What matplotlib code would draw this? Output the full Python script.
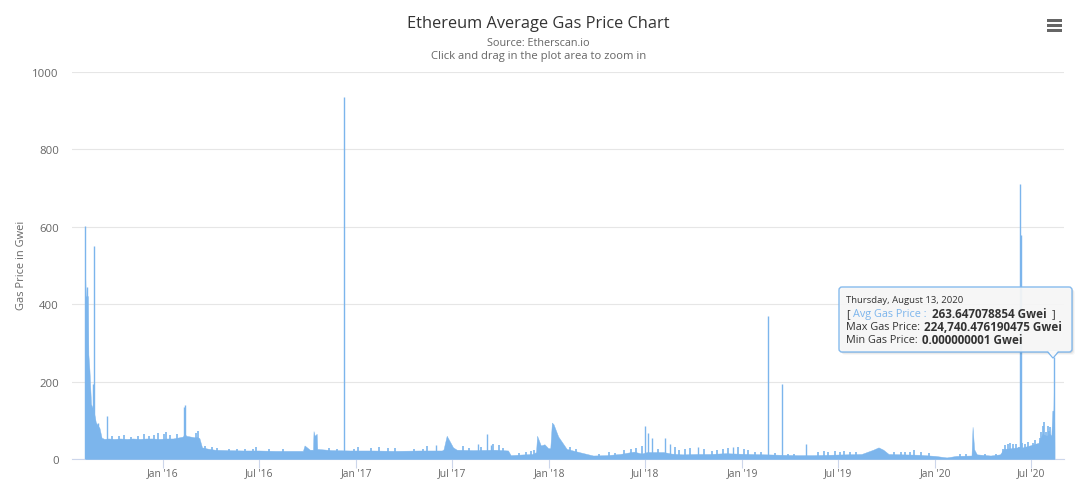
import matplotlib
matplotlib.use("Agg")
import matplotlib.pyplot as plt
import pandas as pd
from matplotlib.patches import FancyBboxPatch, Polygon, Rectangle

plt.rcParams['font.family'] = ['Open Sans', 'DejaVu Sans']

# average gas price
dates = ['2015-08-07', '2015-08-08', '2015-08-10', '2015-08-12', '2015-08-13', '2015-08-15', '2015-08-18',
         '2015-08-23', '2015-08-27', '2015-09-03', '2015-09-07', '2015-09-12', '2015-09-20', '2015-10-01',
         '2015-10-12', '2015-10-25', '2015-11-05', '2015-11-18', '2015-12-01', '2015-12-12', '2015-12-25',
         '2016-01-08', '2016-01-20', '2016-02-01', '2016-02-08', '2016-02-10', '2016-02-13', '2016-02-14',
         '2016-02-22', '2016-03-01', '2016-03-05', '2016-03-10', '2016-03-15', '2016-03-25', '2016-04-08',
         '2016-05-01', '2016-06-01', '2016-07-01', '2016-08-01', '2016-09-01', '2016-09-22', '2016-09-25',
         '2016-10-05', '2016-10-11', '2016-10-12', '2016-10-14', '2016-10-18', '2016-10-19', '2016-11-15',
         '2016-12-20', '2017-02-01', '2017-03-15', '2017-05-01', '2017-06-12', '2017-06-15', '2017-06-21',
         '2017-06-27', '2017-07-03', '2017-07-10', '2017-08-10', '2017-09-20', '2017-10-15', '2017-10-20',
         '2017-11-15', '2017-12-01', '2017-12-07', '2017-12-09', '2017-12-16', '2017-12-23', '2017-12-30',
         '2018-01-03', '2018-01-06', '2018-01-09', '2018-01-18', '2018-02-03', '2018-03-01', '2018-03-25',
         '2018-04-20', '2018-05-15', '2018-06-01', '2018-06-10', '2018-06-25', '2018-07-05', '2018-07-20',
         '2018-08-05', '2018-08-20', '2018-09-10', '2018-10-05', '2018-11-01', '2018-12-01', '2018-12-20',
         '2019-01-15', '2019-02-15', '2019-03-15', '2019-04-15', '2019-05-15', '2019-06-15', '2019-07-15',
         '2019-08-15', '2019-09-06', '2019-09-16', '2019-09-25', '2019-10-05', '2019-11-01', '2019-12-01',
         '2020-01-01', '2020-01-23', '2020-02-10', '2020-03-10', '2020-03-12', '2020-03-15', '2020-03-20',
         '2020-04-15', '2020-05-03', '2020-05-10', '2020-05-25', '2020-06-05', '2020-06-15', '2020-07-01',
         '2020-07-15', '2020-07-22', '2020-07-30', '2020-08-05', '2020-08-08', '2020-08-10', '2020-08-12',
         '2020-08-13', '2020-08-14']
avg_price = [473, 421, 421, 421, 270, 230, 142,
             125, 95, 80, 55, 52, 53, 52,
             53, 52, 53, 52, 53, 53, 52,
             53, 53, 56, 58, 64, 62, 60,
             58, 56, 57, 54, 30, 27, 24,
             23, 22, 22, 21, 21, 21, 35,
             24, 24, 72, 60, 65, 26, 23,
             22, 22, 21, 22, 22, 25, 60,
             45, 30, 24, 23, 24, 22, 10,
             12, 13, 18, 60, 35, 38, 28,
             28, 94, 90, 58, 26, 17, 9,
             10, 13, 17, 19, 14, 18, 18,
             18, 14, 12, 13, 13, 15, 14,
             13, 12, 11, 10, 10, 11, 12,
             13, 24, 30, 24, 13, 12, 11,
             8, 4, 8, 9, 83, 25, 12,
             9, 12, 26, 28, 30, 30, 36,
             42, 65, 60, 65, 60, 125, 125,
             213, 30]

# single day spikes
spike_dates = ['2015-08-07', '2015-08-11', '2015-08-22', '2015-08-24', '2015-08-31', '2015-09-17', '2016-02-10',
               '2016-02-12', '2016-12-09', '2017-05-31', '2017-08-19', '2017-09-05', '2017-09-12', '2018-07-02',
               '2018-07-07', '2018-07-14', '2018-08-08', '2018-08-17', '2018-10-10', '2018-12-15', '2019-02-19',
               '2019-03-17', '2019-05-01', '2020-06-10', '2020-06-11', '2020-08-13']
spike_values = [601, 444, 193, 551, 93, 111, 134,
                140, 935, 35, 40, 65, 35, 85,
                68, 55, 55, 40, 30, 30, 370,
                195, 38, 710, 580, 263]

# the small teeth along the top of the area
small_dates = ['2015-09-26', '2015-10-09', '2015-10-19', '2015-11-02', '2015-11-14', '2015-11-27', '2015-12-06',
               '2015-12-16', '2015-12-22', '2016-01-03', '2016-01-06', '2016-01-15', '2016-01-27', '2016-03-03',
               '2016-03-08', '2016-03-20', '2016-04-02', '2016-04-12', '2016-05-05', '2016-05-20', '2016-06-04',
               '2016-06-20', '2016-06-26', '2016-07-20', '2016-08-15', '2016-11-10', '2016-11-25', '2016-12-28',
               '2017-01-05', '2017-01-28', '2017-02-12', '2017-03-01', '2017-03-15', '2017-04-20', '2017-05-08',
               '2017-05-14', '2017-07-22', '2017-08-03', '2017-08-25', '2017-09-16', '2017-09-27', '2017-10-05',
               '2017-11-05', '2017-11-18', '2017-11-28', '2017-12-03', '2018-02-10', '2018-02-20', '2018-03-10',
               '2018-04-05', '2018-04-25', '2018-05-05', '2018-05-22', '2018-06-05', '2018-06-14', '2018-06-25',
               '2018-07-25', '2018-08-27', '2018-09-03', '2018-09-15', '2018-09-25', '2018-10-20', '2018-11-05',
               '2018-11-14', '2018-11-25', '2018-12-05', '2018-12-25', '2019-01-05', '2019-01-12', '2019-01-25',
               '2019-02-05', '2019-03-05', '2019-03-28', '2019-04-10', '2019-05-25', '2019-06-05', '2019-06-12',
               '2019-06-25', '2019-07-05', '2019-07-12', '2019-07-25', '2019-08-05', '2019-10-15', '2019-10-28',
               '2019-11-05', '2019-11-15', '2019-11-22', '2019-12-05', '2019-12-20', '2020-02-18', '2020-02-28',
               '2020-04-05', '2020-04-25', '2020-05-08', '2020-05-12', '2020-05-18', '2020-05-22', '2020-05-28',
               '2020-06-02', '2020-06-08', '2020-06-14', '2020-06-20', '2020-06-25', '2020-07-05', '2020-07-08',
               '2020-07-12', '2020-07-17', '2020-07-20', '2020-07-23', '2020-07-26', '2020-07-29', '2020-08-01',
               '2020-08-03', '2020-08-06']
small_values = [60, 59, 62, 58, 60, 64, 60,
                62, 66, 65, 70, 62, 64, 66,
                72, 34, 32, 28, 26, 27, 26,
                25, 30, 25, 25, 29, 26, 26,
                30, 28, 30, 28, 29, 27, 26,
                34, 33, 28, 32, 40, 36, 28,
                15, 18, 20, 24, 32, 25, 14,
                14, 18, 16, 22, 26, 28, 34,
                25, 30, 22, 26, 28, 25, 20,
                22, 25, 28, 30, 26, 22, 19,
                17, 16, 13, 14, 18, 20, 17,
                20, 19, 21, 18, 19, 18, 17,
                18, 19, 22, 17, 15, 13, 14,
                14, 13, 26, 35, 38, 42, 38,
                40, 32, 42, 38, 45, 42, 50,
                40, 55, 70, 85, 95, 70, 85,
                72, 82]

tick_dates = ['2016-01-01', '2016-07-01', '2017-01-01', '2017-07-01', '2018-01-01', '2018-07-01', '2019-01-01',
              '2019-07-01', '2020-01-01', '2020-07-01']
tick_labels = ["Jan '16", "Jul '16", "Jan '17", "Jul '17", "Jan '18", "Jul '18", "Jan '19",
               "Jul '19", "Jan '20", "Jul '20"]
y_ticks = [0, 200, 400, 600, 800, 1000]

BLUE = '#7cb5ec'
TEXT = '#333333'
GREY = '#666666'

fig = plt.figure(figsize=(10.8, 4.85), dpi=100)
ax = fig.add_axes([72 / 1080, 1 - 460 / 485, 992 / 1080, 387 / 485])

x = pd.to_datetime(dates)
ax.fill_between(x, avg_price, 0, color=BLUE, lw=0.3, zorder=3)
ax.vlines(pd.to_datetime(small_dates), 0, small_values, color=BLUE, lw=1.2, zorder=3)
ax.vlines(pd.to_datetime(spike_dates), 0, spike_values, color=BLUE, lw=1.0, zorder=3)

ax.set_xlim(pd.Timestamp('2015-07-13'), pd.Timestamp('2020-09-01'))
ax.set_ylim(0, 1000)
ax.set_yticks(y_ticks)
ax.set_xticks(pd.to_datetime(tick_dates))
ax.set_xticklabels(tick_labels)
ax.grid(axis='y', color='#e6e6e6', lw=0.8, zorder=0)
ax.tick_params(axis='x', length=6.5, color='#ccd6eb', width=0.8, labelsize=7.4, labelcolor=GREY, pad=-0.5)
ax.tick_params(axis='y', length=0, labelsize=8.2, labelcolor=GREY, pad=9.4)
for name in ['top', 'left', 'right']:
    ax.spines[name].set_visible(False)
ax.spines['bottom'].set_color('#ccd6eb')
ax.spines['bottom'].set_linewidth(0.8)
ax.set_axisbelow(True)

# overlay in pixel coordinates for title, menu and tooltip
ov = fig.add_axes([0, 0, 1, 1], zorder=5)
ov.set_xlim(0, 1080)
ov.set_ylim(485, 0)
ov.axis('off')
ov.patch.set_alpha(0)

ov.text(538, 23.5, 'Ethereum Average Gas Price Chart', ha='center', va='center', fontsize=11.8, color=TEXT)
ov.text(538.5, 44, 'Source: Etherscan.io', ha='center', va='center', fontsize=7.8, color=GREY)
ov.text(538.5, 57, 'Click and drag in the plot area to zoom in', ha='center', va='center', fontsize=8.1, color=GREY)
ov.text(22, 265.5, 'Gas Price in Gwei', rotation=90, ha='center', va='center', fontsize=7.9, color=GREY)

for y in [21, 26, 31]:
    ov.add_patch(Rectangle((1047, y - 1.5), 15, 3, color='#666666', lw=0))

# tooltip
for off, a in [(3, 0.03), (2, 0.05), (1, 0.08)]:
    ov.add_patch(FancyBboxPatch((839 + off, 288 + off), 233, 65, boxstyle='round,pad=0,rounding_size=3',
                                fc='black', ec='none', alpha=a, zorder=6))
ov.add_patch(Polygon([[1047, 352], [1053, 359], [1059, 352]], closed=True, fc='#f9f9f9', ec=BLUE, lw=1, zorder=7))
ov.add_patch(FancyBboxPatch((839, 288), 233, 65, boxstyle='round,pad=0,rounding_size=3',
                            fc='#f9f9f9', ec=BLUE, lw=1, alpha=0.92, zorder=7))
ov.add_patch(Polygon([[1048, 352], [1053, 358], [1058, 352]], closed=True, fc='#f9f9f9', ec='none', zorder=8))

ov.text(846, 301, 'Thursday, August 13, 2020', va='center', fontsize=6.8, color=TEXT, zorder=9)
ov.text(846, 314.5, '[', va='center', fontsize=7.8, color=TEXT, zorder=9)
ov.text(853, 314.5, 'Avg Gas Price :', va='center', fontsize=7.8, color=BLUE, zorder=9)
ov.text(932, 314.5, '263.647078854 Gwei', va='center', fontsize=8.4, weight='bold', color=TEXT, zorder=9)
ov.text(1052, 314.5, ']', va='center', fontsize=7.8, color=TEXT, zorder=9)
ov.text(846, 328, 'Max Gas Price:', va='center', fontsize=7.8, color=TEXT, zorder=9)
ov.text(924, 328, '224,740.476190475 Gwei', va='center', fontsize=8.4, weight='bold', color=TEXT, zorder=9)
ov.text(846, 341, 'Min Gas Price:', va='center', fontsize=7.8, color=TEXT, zorder=9)
ov.text(922, 341, '0.000000001 Gwei', va='center', fontsize=8.4, weight='bold', color=TEXT, zorder=9)

fig.savefig('out.png', dpi=100)
